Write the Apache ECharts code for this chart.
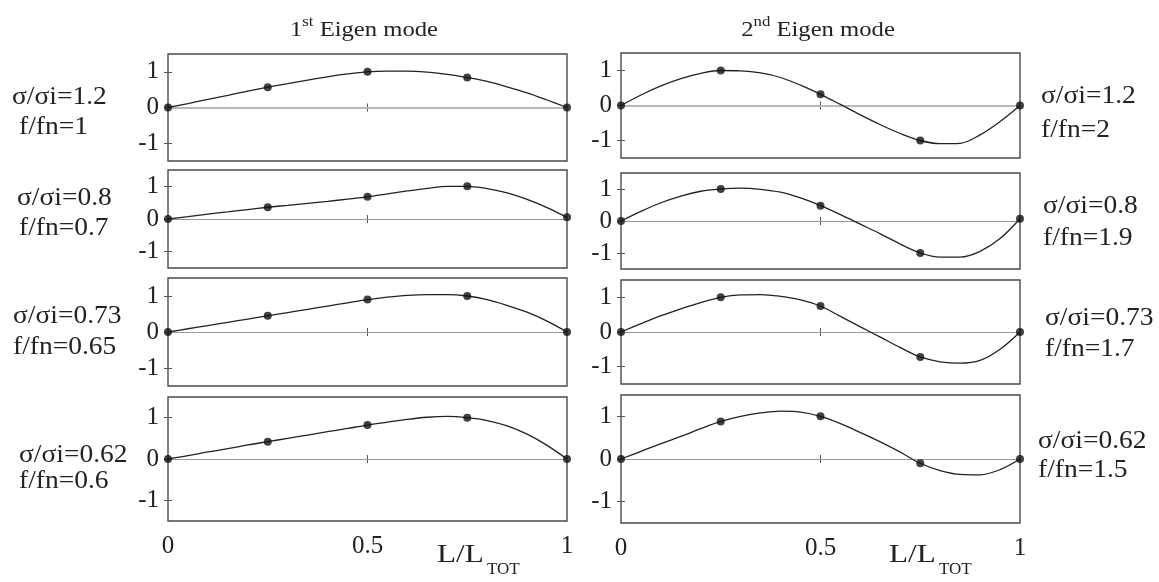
<!DOCTYPE html>
<html>
<head>
<meta charset="utf-8">
<script src="https://cdn.jsdelivr.net/npm/echarts@6/dist/echarts.min.js"></script>
<style>html,body{margin:0;padding:0;background:#fff}#c{width:1159px;height:582px}</style>
</head>
<body>
<div id="c"></div>
<script>
// ---- data ----
const xCurve = [0,0.05,0.1,0.15,0.2,0.25,0.3,0.35,0.4,0.45,0.5,0.55,0.6,0.65,0.7,0.75,0.8,0.85,0.9,0.95,1];
const xDots = [0, 0.25, 0.5, 0.75, 1];
const yTicks = [-1, 0, 1];
const xTicks = [0, 0.5, 1];

// 1st Eigen mode
const m1r1Curve = [0,0.11,0.23,0.34,0.46,0.57,0.67,0.77,0.86,0.94,1.0,1.02,1.02,0.99,0.93,0.84,0.73,0.58,0.41,0.21,0];
const m1r1Dots  = [0,0.57,1.0,0.84,0];
const m1r2Curve = [0,0.07,0.15,0.22,0.29,0.36,0.42,0.48,0.54,0.61,0.68,0.77,0.86,0.94,1.0,1.0,0.93,0.8,0.6,0.35,0.05];
const m1r2Dots  = [0,0.36,0.68,1.0,0.05];
const m1r3Curve = [0,0.09,0.18,0.27,0.36,0.45,0.54,0.63,0.72,0.81,0.9,0.97,1.02,1.04,1.04,1.0,0.9,0.74,0.55,0.3,0];
const m1r3Dots  = [0,0.45,0.9,1.0,0];
const m1r4Curve = [0,0.08,0.17,0.25,0.34,0.42,0.5,0.58,0.66,0.74,0.82,0.89,0.96,1.01,1.03,1.0,0.93,0.8,0.6,0.33,0];
const m1r4Dots  = [0,0.42,0.82,1.0,0];

// 2nd Eigen mode
const m2r1Curve = [0,0.3,0.56,0.77,0.92,1.0,0.99,0.93,0.8,0.58,0.32,0.03,-0.27,-0.55,-0.8,-1.0,-1.09,-1.08,-0.84,-0.46,0];
const m2r1Dots  = [0,1.0,0.32,-1.0,0];
const m2r2Curve = [0,0.3,0.57,0.78,0.93,1.0,1.03,0.99,0.9,0.72,0.48,0.2,-0.1,-0.4,-0.72,-1.0,-1.13,-1.13,-0.95,-0.55,0.07];
const m2r2Dots  = [0,1.0,0.48,-1.0,0.07];
const m2r3Curve = [0,0.24,0.47,0.67,0.85,1.0,1.07,1.08,1.03,0.93,0.75,0.45,0.15,-0.15,-0.45,-0.72,-0.86,-0.9,-0.82,-0.5,0];
const m2r3Dots  = [0,1.0,0.75,-0.72,0];
const m2r4Curve = [0,0.18,0.36,0.53,0.71,0.88,1.0,1.08,1.12,1.1,1.0,0.83,0.62,0.4,0.16,-0.1,-0.27,-0.36,-0.37,-0.25,0];
const m2r4Dots  = [0,0.88,1.0,-0.1,0];

const leftLabels  = [['σ/σi=1.2','f/fn=1'],['σ/σi=0.8','f/fn=0.7'],['σ/σi=0.73','f/fn=0.65'],['σ/σi=0.62','f/fn=0.6']];
const rightLabels = [['σ/σi=1.2','f/fn=2'],['σ/σi=0.8','f/fn=1.9'],['σ/σi=0.73','f/fn=1.7'],['σ/σi=0.62','f/fn=1.5']];

// ---- layout ----
const FONT = "'Liberation Serif','Times New Roman',serif";
const cols = [{left:168,width:399},{left:621,width:399}];
const rows = [
  [[54,107],[170,98],[278,108],[397,124]],
  [[53,105],[173,96],[280,104],[395,128]]
];
const curves = [[m1r1Curve,m1r2Curve,m1r3Curve,m1r4Curve],[m2r1Curve,m2r2Curve,m2r3Curve,m2r4Curve]];
const dots = [[m1r1Dots,m1r2Dots,m1r3Dots,m1r4Dots],[m2r1Dots,m2r2Dots,m2r3Dots,m2r4Dots]];

const grid=[], xAxis=[], yAxis=[], series=[];
let g=0;
for (let c=0;c<2;c++){
  for (let r=0;r<4;r++){
    const [top,h] = rows[c][r];
    grid.push({left:cols[c].left, width:cols[c].width, top:top, height:h, show:true,
      borderColor:'#4a4a4a', borderWidth:1.4, backgroundColor:'transparent'});
    const last = r===3;
    xAxis.push({type:'value', gridIndex:g, min:0, max:1, position:'bottom',
      axisLine:{show:false}, splitLine:{show:false},
      axisTick:{show:true, inside:true, length:4, customValues:[0.5], lineStyle:{color:'#555'}},
      axisLabel:{show:last, customValues:xTicks, fontFamily:FONT, fontSize:25, color:'#222', margin:13,
        formatter:v=>String(v)}});
    xAxis.push({type:'value', gridIndex:g, min:0, max:1, position:'top',
      axisLine:{show:false}, splitLine:{show:false},
      axisTick:{show:true, inside:true, length:4, customValues:[0.5], lineStyle:{color:'#555'}},
      axisLabel:{show:false}});
    yAxis.push({type:'value', gridIndex:g, min:-1.5, max:1.5, position:'left',
      axisLine:{show:false}, splitLine:{show:false},
      axisTick:{show:true, inside:true, length:4, customValues:yTicks, lineStyle:{color:'#555'}},
      axisLabel:{show:true, customValues:yTicks, fontFamily:FONT, fontSize:25, color:'#222', margin:9,
        formatter:v=>String(v)}});
    yAxis.push({type:'value', gridIndex:g, min:-1.5, max:1.5, position:'right',
      axisLine:{show:false}, splitLine:{show:false},
      axisTick:{show:true, inside:true, length:4, customValues:yTicks, lineStyle:{color:'#555'}},
      axisLabel:{show:false}});
    const zeroStyle = r===0 ? {color:'#b8b8b8', width:2, type:'solid'} : {color:'#999', width:1, type:'solid'};
    series.push({type:'line', xAxisIndex:2*g, yAxisIndex:2*g, smooth:0.35, symbol:'none',
      data: xCurve.map((x,i)=>[x, curves[c][r][i]]),
      lineStyle:{color:'#222', width:1.3}, z:3,
      markLine:{silent:true, symbol:'none', label:{show:false}, lineStyle:zeroStyle,
        data:[{yAxis:0}], z:1}});
    series.push({type:'scatter', xAxisIndex:2*g, yAxisIndex:2*g, symbolSize:8,
      data: xDots.map((x,i)=>[x, dots[c][r][i]]),
      itemStyle:{color:'#111'}, z:4});
    g++;
  }
}

const leftPos  = [[12,97,19,127],[17,198,19,228],[13,316,13,347],[19,455,19,481]];
const rightPos = [[1041,96,1041,130],[1043,206,1043,238],[1045,318,1045,349],[1038,441,1038,470]];
const graphic = [];
function txt(t,x,y,size,align,sx){
  graphic.push({type:'text', x:x, y:y, scaleX:sx||1, style:{text:t, font:size+'px '+FONT, fill:'#222',
    textAlign:align||'left', textVerticalAlign:'middle'}});
}
for (let r=0;r<4;r++){
  txt(leftLabels[r][0], leftPos[r][0], leftPos[r][1], 25, 'left', 1.1);
  txt(leftLabels[r][1], leftPos[r][2], leftPos[r][3], 25, 'left', 1.1);
  txt(rightLabels[r][0], rightPos[r][0], rightPos[r][1], 25, 'left', 1.1);
  txt(rightLabels[r][1], rightPos[r][2], rightPos[r][3], 25, 'left', 1.1);
}
// titles with superscripts
function title(num, sup, cx){
  graphic.push({type:'text', x:cx, y:28, scaleX:1.12, style:{text:'{n|'+num+'}{s|'+sup+'}{n| Eigen mode}', textAlign:'center', textVerticalAlign:'middle',
    rich:{n:{font:'22px '+FONT, fill:'#222', lineHeight:26, verticalAlign:'bottom'}, s:{font:'15px '+FONT, fill:'#222', lineHeight:15, verticalAlign:'top'}}}});
}
title('1','st',364);
title('2','nd',818);
// x axis names L/L_TOT
txt('L/L', 437, 555, 26, 'left', 1.2);
txt('TOT', 487, 570, 17);
txt('L/L', 889, 555, 26, 'left', 1.2);
txt('TOT', 939, 570, 17);

const chart = echarts.init(document.getElementById('c'), null, {renderer:'canvas'});
chart.setOption({animation:false, backgroundColor:'#fff', grid, xAxis, yAxis, series, graphic});
</script>
</body>
</html>
